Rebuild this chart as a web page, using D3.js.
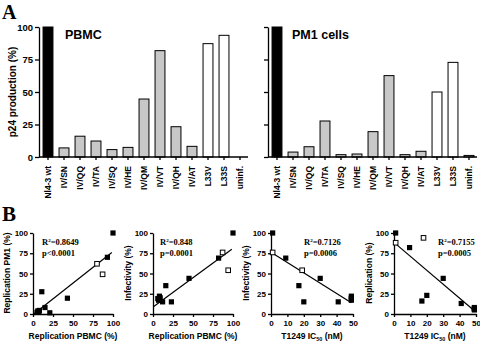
<!DOCTYPE html>
<html>
<head>
<meta charset="utf-8">
<script src="https://cdn.jsdelivr.net/npm/d3@7"></script>
<style>
  body { margin: 0; background: #fff; }
  svg text { font-family: "Liberation Sans", Arial, sans-serif; font-weight: bold; fill: #000; }
  svg text.serif { font-family: "Liberation Serif", "Times New Roman", serif; }
  .domain, .tick line { stroke: #000; stroke-width: 1.3; }
</style>
</head>
<body>
<script>
// ---- data ----
var categories = ["Nl4-3 wt", "IV/SN", "IV/QQ", "IV/TA", "IV/SQ", "IV/HE", "IV/QM",
                  "IV/VT", "IV/QH", "IV/AT", "L33V", "L33S", "uninf."];
var pbmcValues = [100, 7, 16, 12.3, 5.7, 7.4, 44.6, 81.8, 23.3, 8.2, 87.2, 93.6, 0];
var pm1Values  = [100, 3.8, 7.9, 27.7, 1.8, 2.3, 19.5, 62.6, 1.8, 4.4, 50, 72.8, 1.2];
var yTicksA = [0, 25, 50, 75, 100];

// scatter panels B: filled / open points, fitted line ends
var pbmcPm1Filled = [[100,100],[93,70],[11,27.5],[43,19.5],[15,8],[21,1.5],[6,3.8],[7.5,2.3],[8,4.4],[5,2]];
var pbmcPm1Open   = [[80,62],[87,49]];
var pbmcPm1Fit    = [[1,0],[98.5,76]];

var pbmcInfFilled = [[100,100],[82,69],[45,44],[16,35],[6,19],[7,17],[8,22],[9,20],[12,15],[23,15]];
var pbmcInfOpen   = [[87,76],[94,54]];
var pbmcInfFit    = [[0.5,9],[98.5,80]];

var icInfFilled = [[1,100],[9,69],[30,44],[17,35],[20,15],[41,15],[49,22],[49,19],[49,17],[49,20]];
var icInfOpen   = [[1,76],[19,54]];
var icInfFit    = [[0.5,75.5],[49,14]];

var icRepFilled = [[1,100],[9.5,82],[30,44],[17,16],[20,23],[41,13],[49,8],[49,6],[49,7],[49,5]];
var icRepOpen   = [[1,88],[18,94]];
var icRepFit    = [[0.5,87.5],[49,4]];

var pctTicks = [0, 25, 50, 75, 100];
var icTicks  = [0, 10, 20, 30, 40, 50];

var outWidth = 480, outHeight = 342;
var svg = d3.select("body").append("svg")
    .attr("width", outWidth)
    .attr("height", outHeight);

// panel letters
svg.append("text").attr("class", "serif").attr("x", 2).attr("y", 19)
    .style("font-size", "20px").text("A");
svg.append("text").attr("class", "serif").attr("x", 2).attr("y", 221)
    .style("font-size", "21px").text("B");

// ---- A: bar charts ----
function barColor(d, i) {
  if (i == 0) return "#000";
  if (d == "L33V" || d == "L33S" || d == "uninf.") return "#fff";
  return "#c8c8c8";
}

function drawBars(x0, values, label, showTickLabels) {
  var xScale = d3.scaleBand().domain(categories)
      .range([x0, x0 + 13 * 16]).paddingInner(0.38).paddingOuter(0.19);
  var yScale = d3.scaleLinear().domain([0, 100]).range([157, 27]);

  var g = svg.append("g");
  g.selectAll("rect").data(categories).enter().append("rect")
      .attr("x", function(d) { return xScale(d); })
      .attr("width", xScale.bandwidth())
      .attr("y", function(d, i) { return yScale(values[i]); })
      .attr("height", function(d, i) { return yScale(0) - yScale(values[i]); })
      .attr("fill", barColor)
      .attr("stroke", "#000")
      .attr("stroke-width", 1);

  var yAxis = d3.axisLeft(yScale).tickValues(yTicksA).tickSize(4).tickSizeOuter(0).tickPadding(2);
  if (!showTickLabels) yAxis.tickFormat("");
  g.append("g").attr("transform", "translate(" + (x0 - 1) + ",0)").call(yAxis)
      .selectAll("text").style("font-size", "9.5px");

  var xAxis = d3.axisBottom(xScale).tickSize(3).tickSizeOuter(0).tickFormat("");
  var xg = g.append("g").attr("transform", "translate(0," + yScale(0) + ")").call(xAxis);
  xg.select(".domain").attr("d", "M" + (x0 - 1) + ",0H" + (x0 + 13 * 16));

  // rotated category labels
  g.selectAll(".cat").data(categories).enter().append("text")
      .attr("class", "cat")
      .attr("transform", function(d) {
        return "translate(" + (xScale(d) + xScale.bandwidth() / 2) + ",166) rotate(-90)"; })
      .attr("text-anchor", "end")
      .attr("dy", "0.35em")
      .style("font-size", "8.5px")
      .text(function(d) { return d; });

  g.append("text").attr("x", label.x).attr("y", 39)
      .style("font-size", "12.5px").text(label.text);
}

drawBars(40, pbmcValues, {x: 65, text: "PBMC"}, true);
drawBars(269, pm1Values, {x: 292, text: "PM1 cells"}, false);

svg.append("text")
    .attr("transform", "translate(16,92) rotate(-90)")
    .attr("text-anchor", "middle")
    .style("font-size", "10px")
    .text("p24 production (%)");

// ---- B: scatter panels ----
function drawScatter(opt) {
  var xScale = d3.scaleLinear().domain(opt.xDomain).range([opt.x0, opt.x0 + opt.w]);
  var yScale = d3.scaleLinear().domain([0, 100]).range([314, 233]);
  var g = svg.append("g");

  g.append("g").attr("transform", "translate(0,314)")
      .call(d3.axisBottom(xScale).tickValues(opt.xTicks).tickSize(3).tickSizeOuter(0).tickPadding(3))
      .selectAll("text").style("font-size", "8px");
  g.append("g").attr("transform", "translate(" + opt.x0 + ",0)")
      .call(d3.axisLeft(yScale).tickValues(pctTicks).tickSize(3).tickSizeOuter(0).tickPadding(2))
      .selectAll("text").style("font-size", "8px");

  // fit line
  g.append("line")
      .attr("x1", xScale(opt.fit[0][0])).attr("y1", yScale(opt.fit[0][1]))
      .attr("x2", xScale(opt.fit[1][0])).attr("y2", yScale(opt.fit[1][1]))
      .attr("stroke", "#000").attr("stroke-width", 1.2);

  g.selectAll(".filled").data(opt.filled).enter().append("rect")
      .attr("class", "filled")
      .attr("x", function(d) { return xScale(d[0]) - 2.6; })
      .attr("y", function(d) { return yScale(d[1]) - 2.6; })
      .attr("width", 5.2).attr("height", 5.2)
      .attr("fill", "#000");
  g.selectAll(".open").data(opt.open).enter().append("rect")
      .attr("class", "open")
      .attr("x", function(d) { return xScale(d[0]) - 2.3; })
      .attr("y", function(d) { return yScale(d[1]) - 2.3; })
      .attr("width", 4.6).attr("height", 4.6)
      .attr("fill", "#fff").attr("stroke", "#000").attr("stroke-width", 1);

  // x title
  var xt = g.append("text")
      .attr("x", opt.x0 + opt.w / 2).attr("y", 339)
      .attr("text-anchor", "middle")
      .style("font-size", "8.5px");
  if (opt.xSub) {
    xt.append("tspan").text(opt.xTitle);
    xt.append("tspan").attr("dy", 2).style("font-size", "5.5px").text(opt.xSub);
    xt.append("tspan").attr("dy", -2).text(opt.xTitle2);
  } else {
    xt.text(opt.xTitle);
  }
  // y title
  g.append("text")
      .attr("transform", "translate(" + opt.yTitleX + ",273) rotate(-90)")
      .attr("text-anchor", "middle")
      .style("font-size", "8.5px")
      .text(opt.yTitle);

  // stats
  var st = g.append("text").attr("class", "serif")
      .attr("x", opt.statX).attr("y", 245).style("font-size", "8.5px");
  st.append("tspan").text("R");
  st.append("tspan").attr("dy", -3).style("font-size", "5px").text("2");
  st.append("tspan").attr("dy", 3).text("=" + opt.r2);
  g.append("text").attr("class", "serif")
      .attr("x", opt.statX).attr("y", 256).style("font-size", "8.5px").text(opt.p);
}

drawScatter({x0: 33, w: 80, xDomain: [0, 100], xTicks: pctTicks,
  filled: pbmcPm1Filled, open: pbmcPm1Open, fit: pbmcPm1Fit,
  xTitle: "Replication PBMC (%)", yTitle: "Replication PM1 (%)", yTitleX: 10,
  statX: 42, r2: "0.8649", p: "p<0.0001"});
drawScatter({x0: 153, w: 80, xDomain: [0, 100], xTicks: pctTicks,
  filled: pbmcInfFilled, open: pbmcInfOpen, fit: pbmcInfFit,
  xTitle: "Replication PBMC (%)", yTitle: "Infectivity (%)", yTitleX: 131,
  statX: 160, r2: "0.848", p: "p=0.0001"});
drawScatter({x0: 271, w: 82, xDomain: [0, 50], xTicks: icTicks,
  filled: icInfFilled, open: icInfOpen, fit: icInfFit,
  xTitle: "T1249 IC", xSub: "50", xTitle2: " (nM)", yTitle: "Infectivity (%)", yTitleX: 249,
  statX: 304, r2: "0.7126", p: "p=0.0006"});
drawScatter({x0: 394, w: 82, xDomain: [0, 50], xTicks: icTicks,
  filled: icRepFilled, open: icRepOpen, fit: icRepFit,
  xTitle: "T1249 IC", xSub: "50", xTitle2: " (nM)", yTitle: "Replication (%)", yTitleX: 372,
  statX: 438, r2: "0.7155", p: "p=0.0005"});
</script>
</body>
</html>
